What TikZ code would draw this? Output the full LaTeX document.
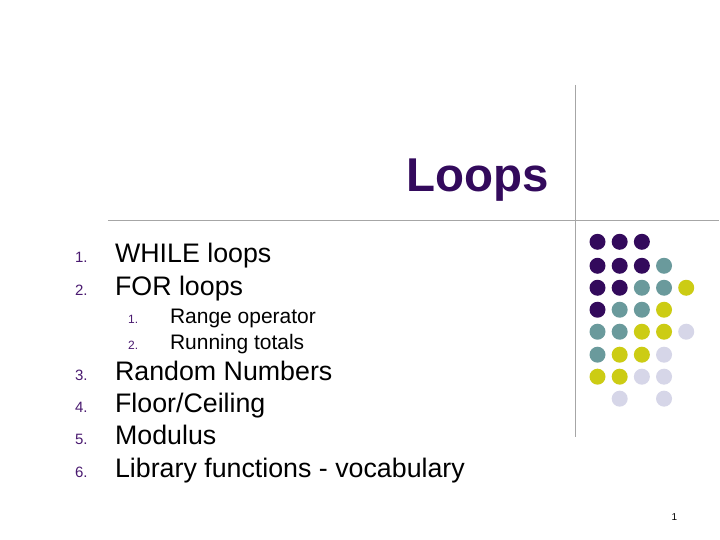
\documentclass[tikz,border=0pt]{standalone}
\usepackage{fontspec}
\setmainfont{Liberation Sans}
\definecolor{dk}{HTML}{330A5C}
\definecolor{tl}{HTML}{6A9A9C}
\definecolor{yl}{HTML}{CCCC14}
\definecolor{lv}{HTML}{D6D6E8}
\definecolor{num}{HTML}{4A1A70}
\begin{document}
\begin{tikzpicture}[x=1pt,y=-1pt,
  item/.style={anchor=base west,inner sep=0pt,font=\fontsize{26.8}{26.8}\selectfont},
  sub/.style={anchor=base west,inner sep=0pt,font=\fontsize{21}{21}\selectfont},
  nm/.style={anchor=base west,inner sep=0pt,text=num,font=\fontsize{15}{15}\selectfont},
  snm/.style={anchor=base west,inner sep=0pt,text=num,font=\fontsize{12}{12}\selectfont},
  dot/.style={circle,inner sep=0pt,minimum size=16pt}]
\fill[white] (0,0) rectangle (720,540);
\draw[gray!70,line width=1.2pt] (108,221) -- (720,221);
\draw[gray!70,line width=1.2pt] (576,85) -- (576,437);
\node[anchor=base east,inner sep=0pt,text=dk,font=\fontsize{47.5}{47.5}\selectfont\bfseries] (t) at (550,192) {Loops};
\node[nm] (n1) at (75,263) {1.}; \node[item] (i1) at (115,263) {WHILE loops};
\node[nm] (n2) at (75,296) {2.}; \node[item] (i2) at (115,296) {FOR loops};
\node[snm] (s1) at (128,324) {1.}; \node[sub] (j1) at (170,324) {Range operator};
\node[snm] (s2) at (128,350) {2.}; \node[sub] (j2) at (170,350) {Running totals};
\node[nm] (n3) at (75,381) {3.}; \node[item] (i3) at (115,381) {Random Numbers};
\node[nm] (n4) at (75,413) {4.}; \node[item] (i4) at (115,413) {Floor/Ceiling};
\node[nm] (n5) at (75,445) {5.}; \node[item] (i5) at (115,445) {Modulus};
\node[nm] (n6) at (75,478) {6.}; \node[item] (i6) at (115,478) {Library functions - vocabulary};
\node[anchor=base,inner sep=0pt,font=\fontsize{10}{10}\selectfont] (pg) at (675,521) {1};
\foreach \r/\y/\cs in {1/242/{dk,dk,dk,,},2/266/{dk,dk,dk,tl,},3/288/{dk,dk,tl,tl,yl},4/310/{dk,tl,tl,yl,},5/332/{tl,tl,yl,yl,lv},6/355/{tl,yl,yl,lv,},7/377/{yl,yl,lv,lv,},8/399/{,lv,,lv,}}{
  \foreach \c [count=\i] in \cs {
    \ifx\c\empty\else
      \pgfmathsetmacro\xx{598+22.2*(\i-1)}
      \node[dot,fill=\c] (d\r-\i) at (\xx,\y) {};
    \fi }}
\end{tikzpicture}
\end{document}
